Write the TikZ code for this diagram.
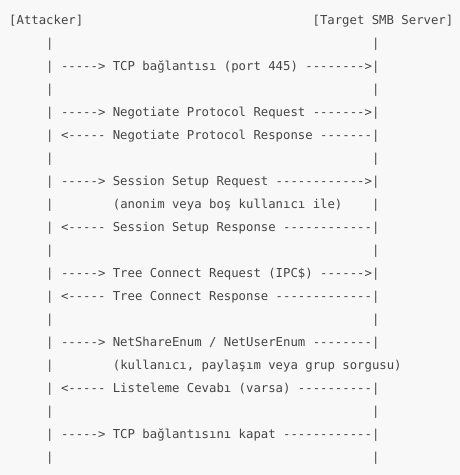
\documentclass[tikz,border=0pt]{standalone}
\usepackage{fontspec}
\setmonofont{DejaVu Sans Mono}
\usepackage{xcolor}
\usepackage{tikz}

\definecolor{codeink}{HTML}{454545}
\definecolor{codebg}{HTML}{F8F8F8}
\newcommand\pad[1]{\hskip#1\fontcharwd\font`x\relax}

\begin{document}
\begin{tikzpicture}[x=1pt,y=1pt,every node/.style={inner sep=0pt,outer sep=0pt,anchor=base west,text=codeink,font=\ttfamily\fontsize{12.3}{14}\selectfont}]
			\fill[codebg] (0,0) rectangle (460,-475);
			\useasboundingbox (0,0) rectangle (460,-475);
			\node (attacker) at (9.2,-24.8) {[Attacker]};
			\node (server) at (312.6,-24.8) {[Target SMB Server]};
			\node (gap-1) at (46.2,-47.8) {|\pad{43}|};
			\node (tcp) at (46.2,-70.8) {| -----> TCP bağlantısı (port 445) -------->|};
			\node (gap-2) at (46.2,-93.8) {|\pad{43}|};
			\node (negreq) at (46.2,-116.8) {| -----> Negotiate Protocol Request ------->|};
			\node (negresp) at (46.2,-139.8) {| <----- Negotiate Protocol Response -------|};
			\node (gap-3) at (46.2,-162.8) {|\pad{43}|};
			\node (sessreq) at (46.2,-185.8) {| -----> Session Setup Request ------------>|};
			\node (sessnote) at (46.2,-208.8) {|\pad{8}(anonim veya boş kullanıcı ile)\pad{4}|};
			\node (sessresp) at (46.2,-231.8) {| <----- Session Setup Response ------------|};
			\node (gap-4) at (46.2,-254.8) {|\pad{43}|};
			\node (treereq) at (46.2,-277.8) {| -----> Tree Connect Request (IPC\$) ------>|};
			\node (treeresp) at (46.2,-300.8) {| <----- Tree Connect Response -------------|};
			\node (gap-5) at (46.2,-323.8) {|\pad{43}|};
			\node (enumreq) at (46.2,-346.8) {| -----> NetShareEnum / NetUserEnum --------|};
			\node (enumnote) at (46.2,-369.8) {|\pad{8}(kullanıcı, paylaşım veya grup sorgusu)};
			\node (enumresp) at (46.2,-392.8) {| <----- Listeleme Cevabı (varsa) ----------|};
			\node (gap-6) at (46.2,-415.8) {|\pad{43}|};
			\node (close) at (46.2,-438.8) {| -----> TCP bağlantısını kapat ------------|};
			\node (gap-7) at (46.2,-461.8) {|\pad{43}|};
			\end{tikzpicture}
\end{document}
